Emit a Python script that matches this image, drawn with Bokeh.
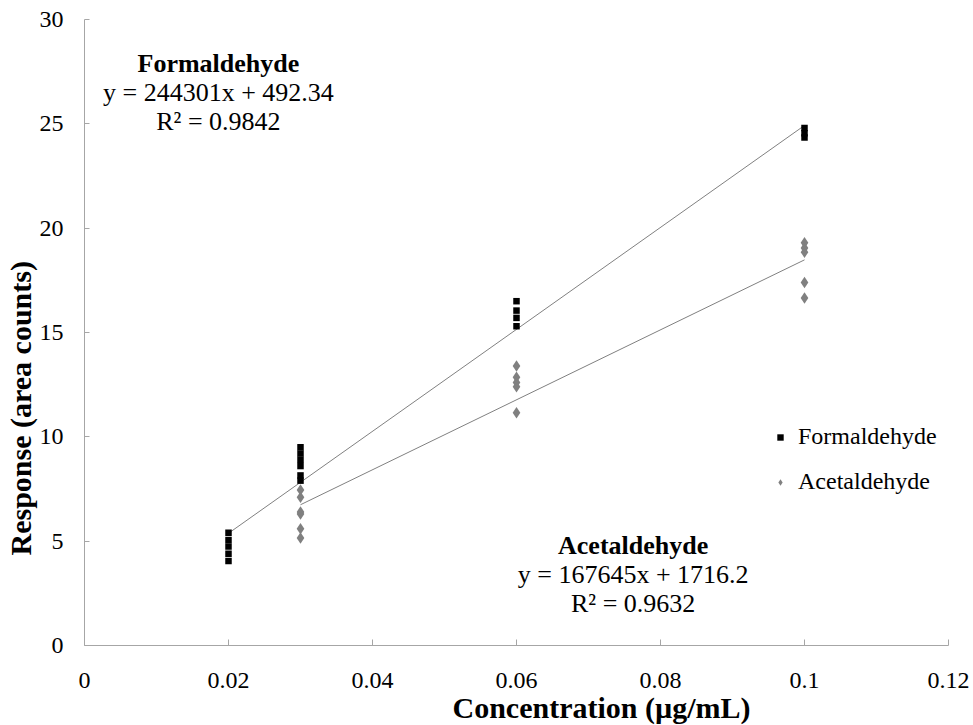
from bokeh.plotting import figure
from bokeh.models import Range1d, FixedTicker, NumeralTickFormatter, Label, Legend, LegendItem, Title
from bokeh.embed import file_html
from bokeh.resources import INLINE

# ---- data (response in thousands of area counts) ----
form_x = [0.02, 0.02, 0.02, 0.02, 0.02,
          0.03, 0.03, 0.03, 0.03, 0.03, 0.03,
          0.06, 0.06, 0.06, 0.06,
          0.1, 0.1, 0.1]
form_y = [5.4, 5.05, 4.75, 4.4, 4.05,
          9.5, 9.2, 8.9, 8.6, 8.15, 7.9,
          16.5, 16.05, 15.7, 15.3,
          24.8, 24.55, 24.35]
acet_x = [0.03, 0.03, 0.03, 0.03, 0.03, 0.03,
          0.06, 0.06, 0.06, 0.06, 0.06,
          0.1, 0.1, 0.1, 0.1, 0.1]
acet_y = [7.45, 7.1, 6.4, 6.3, 5.6, 5.15,
          13.4, 12.85, 12.6, 12.4, 11.15,
          19.3, 19.05, 18.85, 17.4, 16.65]

# trendlines: y = slope*x + intercept (area counts); plotted in thousands
form_slope, form_intercept = 244301, 492.34
acet_slope, acet_intercept = 167645, 1716.2
form_fit_x = [0.02, 0.1]
acet_fit_x = [0.03, 0.1]
form_fit_y = [(form_slope * x + form_intercept) / 1000 for x in form_fit_x]
acet_fit_y = [(acet_slope * x + acet_intercept) / 1000 for x in acet_fit_x]

x_ticks = [0, 0.02, 0.04, 0.06, 0.08, 0.1, 0.12]
y_ticks = [0, 5, 10, 15, 20, 25, 30]

FONT = "Liberation Serif"
AX = "#a6a6a6"

p = figure(width=973, height=725, x_range=Range1d(0, 0.12), y_range=Range1d(0, 30),
           output_backend="svg", toolbar_location=None,
           min_border_left=84, min_border_right=25, min_border_top=19, min_border_bottom=80)
p.outline_line_color = None
p.xgrid.visible = False
p.ygrid.visible = False
p.background_fill_color = "white"
p.border_fill_color = "white"

for ax in (p.xaxis[0], p.yaxis[0]):
    ax.axis_line_color = AX
    ax.major_tick_line_color = AX
    ax.minor_tick_line_color = None
    ax.major_tick_out = 0
    ax.major_label_text_font = FONT
    ax.major_label_text_font_size = "24px"
    ax.major_label_text_color = "black"

p.xaxis.ticker = FixedTicker(ticks=x_ticks)
p.yaxis.ticker = FixedTicker(ticks=y_ticks)
p.xaxis.formatter = NumeralTickFormatter(format="0.[00]")
p.yaxis.formatter = NumeralTickFormatter(format="0")
p.xaxis.major_tick_in = 6
p.yaxis.major_tick_in = 5
p.xaxis.major_label_standoff = 27
p.yaxis.major_label_standoff = 21

# trendlines
p.line(form_fit_x, form_fit_y, line_color="#808080", line_width=1)
p.line(acet_fit_x, acet_fit_y, line_color="#808080", line_width=1)

# markers
r_form = p.scatter(form_x, form_y, marker="square", size=6.5, fill_color="black", line_color=None)
r_acet = p.scatter(acet_x, acet_y, marker="diamond", size=11.5,
                   fill_color="#808080", line_color=None)

legend = Legend(items=[LegendItem(label="Formaldehyde", renderers=[r_form]),
                       LegendItem(label="Acetaldehyde", renderers=[r_acet])],
                location=(688, 150), orientation="vertical",
                glyph_width=16, glyph_height=24, spacing=18, label_standoff=10,
                padding=0, margin=0, border_line_color=None, background_fill_alpha=0,
                label_text_font=FONT, label_text_font_size="24px", label_text_color="black",
                label_height=24)
p.add_layout(legend)

def lab(x, y, text, bold=False, size="26px"):
    p.add_layout(Label(x=x, y=y, text=text, text_font=FONT, text_font_size=size,
                       text_font_style="bold" if bold else "normal", text_color="black",
                       text_align="center", text_baseline="middle"))

# Formaldehyde annotation
lab(0.0186, 27.9, "Formaldehyde", bold=True)
lab(0.0186, 26.5, "y = 244301x + 492.34")
lab(0.0186, 25.1, "R² = 0.9842")
# Acetaldehyde annotation
lab(0.0762, 4.8, "Acetaldehyde", bold=True)
lab(0.0762, 3.4, "y = 167645x + 1716.2")
lab(0.0762, 2.0, "R² = 0.9632")

# axis titles
xt = Title(text="Concentration (µg/mL)", align="left", offset=368, standoff=0,
           vertical_align="top", text_font=FONT, text_font_size="30px",
           text_font_style="bold", text_color="black")
p.add_layout(xt, "below")
yt = Title(text="Response (area counts)", align="left", offset=90, standoff=0,
           text_font=FONT, text_font_size="30px",
           text_font_style="bold", text_color="black")
p.add_layout(yt, "left")

open("out.html", "w").write(file_html(p, INLINE))
